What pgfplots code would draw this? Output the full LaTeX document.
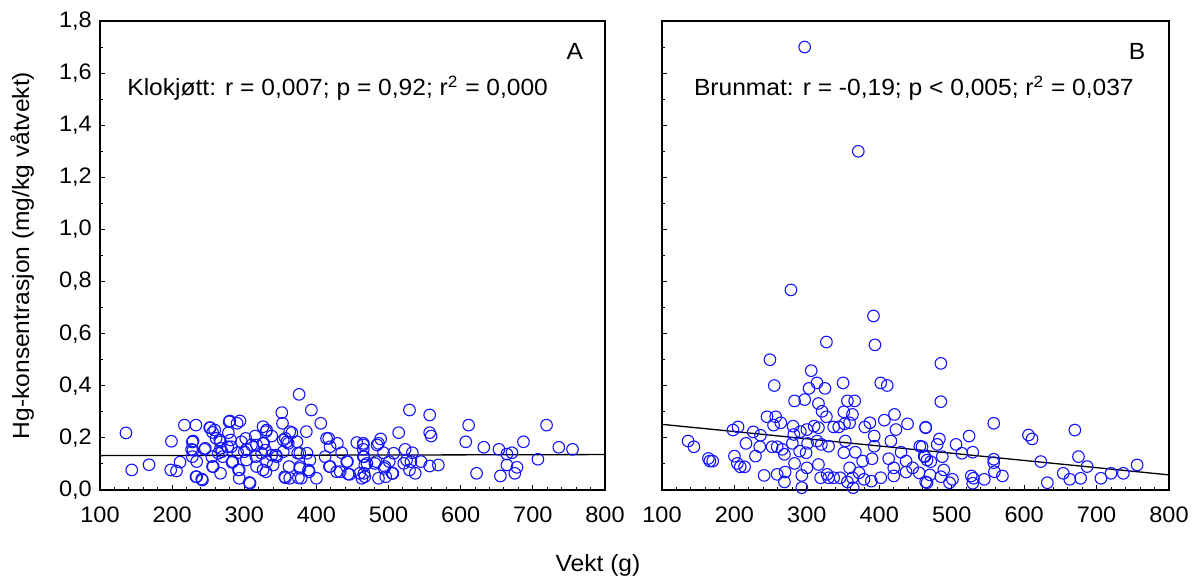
\documentclass[border=0pt]{standalone}
\usepackage{pgfplots}
\pgfplotsset{compat=1.18}
\usepackage{fontspec}
\setmainfont{Liberation Sans}[FakeStretch=1.05]
\definecolor{ptblue}{RGB}{20,20,255}

\begin{document}
\fontsize{11.7bp}{14bp}\selectfont
\begin{tikzpicture}
\useasboundingbox (0,0) rectangle (598.5bp,289.5bp);
\pgfplotsset{
  panel/.style={
    scale only axis,
    width=252.5bp, height=234.5bp,
    xmin=100, xmax=800, ymin=0, ymax=1.8,
    xtick={100,200,...,800},
    ytick={0,0.2,...,1.8},
    minor x tick num=4,
    minor y tick num=1,
    tick align=inside,
    xtick pos=bottom, ytick pos=left,
    major tick length=2.6bp, minor tick length=1.6bp,
    axis line style={line width=0.75bp},
    every tick/.style={black, line width=0.5bp},
    /pgf/number format/assume math mode=true,
    /pgf/number format/1000 sep={},
    yticklabel style={/pgf/number format/.cd, use comma, fixed, fixed zerofill, precision=1},
    xticklabel style={yshift=-4.5bp},
    tick label style={font=\fontsize{11.2bp}{13bp}\selectfont},
    clip=false,
    anchor=south west,
  },
  pts/.style={only marks, mark=o, mark size=2.9bp, mark options={draw=ptblue, line width=0.55bp}},
  reg/.style={black, line width=0.65bp, no marks},
}

\begin{axis}[panel, at={(50bp,44.5bp)},
  ylabel={Hg-konsentrasjon (mg/kg våtvekt)},
  ylabel style={at={(axis description cs:-0.154,0.5)}, anchor=center, font=\fontsize{11.7bp}{14bp}\selectfont},
]
\addplot[pts] table {
x y
136 0.219
144 0.077
168 0.097
199 0.187
198 0.077
206 0.073
211 0.107
217 0.249
228 0.184
227 0.156
228 0.128
233 0.249
234 0.109
234 0.051
241 0.042
245 0.156
252 0.239
256 0.221
259 0.230
257 0.090
264 0.141
266 0.192
267 0.160
267 0.064
270 0.128
278 0.220
280 0.265
281 0.192
282 0.166
283 0.106
290 0.256
294 0.265
291 0.143
293 0.077
293 0.045
296 0.185
302 0.198
303 0.156
303 0.115
308 0.026
310 0.173
315 0.207
316 0.128
317 0.090
326 0.243
326 0.179
326 0.077
329 0.153
331 0.230
331 0.109
338 0.207
338 0.134
340 0.096
345 0.128
352 0.297
353 0.256
354 0.192
354 0.147
356 0.051
359 0.185
362 0.090
363 0.045
366 0.220
373 0.185
376 0.367
377 0.141
377 0.090
379 0.045
386 0.224
387 0.141
389 0.077
391 0.115
393 0.307
400 0.045
406 0.256
412 0.128
417 0.198
419 0.166
419 0.090
429 0.179
433 0.070
435 0.143
443 0.109
444 0.061
456 0.182
460 0.064
465 0.179
465 0.156
466 0.128
463 0.045
465 0.173
466 0.064
470 0.102
467 0.051
483 0.109
486 0.179
489 0.196
493 0.143
495 0.090
496 0.051
486 0.045
501 0.109
506 0.064
507 0.141
514 0.220
523 0.156
525 0.115
529 0.307
529 0.077
531 0.109
533 0.143
537 0.064
545 0.109
557 0.288
557 0.220
559 0.207
557 0.092
569 0.096
607 0.185
611 0.249
622 0.064
632 0.164
653 0.156
655 0.054
664 0.138
664 0.096
671 0.143
675 0.064
678 0.087
687 0.185
707 0.118
719 0.249
736 0.164
755 0.156
229 0.188
229 0.153
233 0.051
242 0.038
246 0.160
253 0.239
261 0.198
256 0.090
255 0.128
267 0.185
269 0.147
279 0.262
277 0.166
284 0.109
292 0.077
300 0.147
307 0.029
317 0.173
330 0.224
327 0.179
324 0.141
330 0.070
344 0.134
357 0.198
363 0.224
361 0.179
357 0.047
374 0.141
377 0.083
375 0.047
390 0.070
414 0.198
418 0.090
428 0.070
442 0.109
446 0.060
465 0.128
467 0.096
481 0.102
484 0.173
494 0.083
505 0.064
521 0.102
};
\addplot[reg] coordinates {(100,0.132) (800,0.136)};
\node[anchor=west] at (rel axis cs:0.038,0.857) {Klokjøtt: r = 0,007; p = 0,92; r\textsuperscript{2} = 0,000};
\node at (rel axis cs:0.94,0.936) {A};
\end{axis}

\begin{axis}[panel, at={(331bp,44.5bp)}, width=253.5bp, yticklabels={}]
\addplot[pts] table {
x y
297 1.700
371 1.300
278 0.768
392 0.668
327 0.568
394 0.557
249 0.500
306 0.458
255 0.401
303 0.390
314 0.411
325 0.390
350 0.411
402 0.411
411 0.401
283 0.342
297 0.347
316 0.332
356 0.342
366 0.342
321 0.302
327 0.281
351 0.300
363 0.290
245 0.281
257 0.281
254 0.249
264 0.258
281 0.245
282 0.213
291 0.224
300 0.232
310 0.245
316 0.239
337 0.242
344 0.242
352 0.254
359 0.258
380 0.242
387 0.258
393 0.207
407 0.268
421 0.290
423 0.232
439 0.254
464 0.241
198 0.230
205 0.242
226 0.223
236 0.210
216 0.179
136 0.188
144 0.166
164 0.121
166 0.111
170 0.111
200 0.130
204 0.102
208 0.089
214 0.089
229 0.130
235 0.166
252 0.166
259 0.166
266 0.156
269 0.137
280 0.179
290 0.149
299 0.143
301 0.179
314 0.188
320 0.175
330 0.168
353 0.188
351 0.143
367 0.145
377 0.111
390 0.120
393 0.168
416 0.188
413 0.120
430 0.145
456 0.168
462 0.130
241 0.056
259 0.060
269 0.031
270 0.069
283 0.102
293 0.056
293 0.009
300 0.085
316 0.098
319 0.047
328 0.060
330 0.047
337 0.047
346 0.047
356 0.031
359 0.085
363 0.047
364 0.009
372 0.066
379 0.041
389 0.034
402 0.047
420 0.054
437 0.069
446 0.085
455 0.066
464 0.031
420 0.085
437 0.111
485 0.486
485 0.339
464 0.239
483 0.196
480 0.175
459 0.166
506 0.175
524 0.207
558 0.256
514 0.141
529 0.145
487 0.128
463 0.128
466 0.115
471 0.109
489 0.077
470 0.058
485 0.051
501 0.041
497 0.028
466 0.028
527 0.054
530 0.045
529 0.026
545 0.041
558 0.118
558 0.105
559 0.070
570 0.054
606 0.211
611 0.196
623 0.109
632 0.028
654 0.064
663 0.041
670 0.230
675 0.128
678 0.045
687 0.090
706 0.045
720 0.064
737 0.064
756 0.096
};
\addplot[reg] coordinates {(100,0.252) (800,0.058)};
\node[anchor=west] at (rel axis cs:0.047,0.857) {Brunmat: r = -0,19; p < 0,005; r\textsuperscript{2} = 0,037};
\node at (rel axis cs:0.937,0.936) {B};
\end{axis}

\node at (299bp,7bp) {Vekt (g)};
\end{tikzpicture}
\end{document}
